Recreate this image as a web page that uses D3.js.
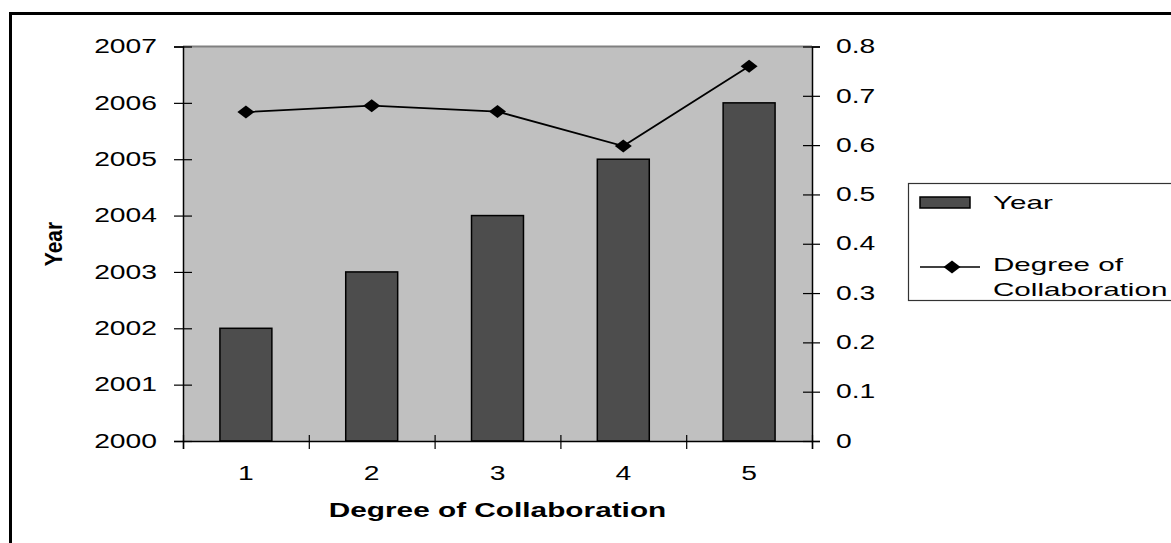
<!DOCTYPE html>
<html>
<head>
<meta charset="utf-8">
<script src="https://cdn.jsdelivr.net/npm/d3@7"></script>
<style>
  body { margin: 0; background: #fff; }
  svg text { font-family: "Liberation Sans", Arial, sans-serif; fill: #000; }
</style>
</head>
<body>
<div id="chart"></div>
<script>
// chart data
var categories = [1, 2, 3, 4, 5];
var yearValues = [2002, 2003, 2004, 2005, 2006];
var collabValues = [0.667, 0.68, 0.668, 0.598, 0.76];
var yearTicks = [2000, 2001, 2002, 2003, 2004, 2005, 2006, 2007];
var collabTicks = [0, 0.1, 0.2, 0.3, 0.4, 0.5, 0.6, 0.7, 0.8];

var W = 1171, H = 543;
var margin = { top: 46.5, right: 359, bottom: 102, left: 183 };
var width = W - margin.left - margin.right,
    height = H - margin.top - margin.bottom;

var svg = d3.select("#chart").append("svg")
    .attr("width", W)
    .attr("height", H);

// outer frame (runs off the right and bottom edge)
svg.append("rect")
    .attr("x", 10.5).attr("y", 13.5)
    .attr("width", W + 20).attr("height", H + 20)
    .attr("fill", "none")
    .attr("stroke", "#000")
    .attr("stroke-width", 3);

var g = svg.append("g")
    .attr("transform", "translate(" + margin.left + "," + margin.top + ")");

// scales
var x = d3.scaleBand()
    .domain(categories)
    .range([0, width])
    .paddingInner(0.587)
    .paddingOuter(0.2935);

var xEdge = d3.scaleLinear().domain([0, categories.length]).range([0, width]);

var yLeft = d3.scaleLinear().domain([2000, 2007]).range([height, 0]);
var yRight = d3.scaleLinear().domain([0, 0.8]).range([height, 0]);

// plot background
g.append("rect")
    .attr("width", width)
    .attr("height", height)
    .attr("fill", "#c0c0c0");
g.append("line")
    .attr("x1", 0).attr("x2", width)
    .attr("y1", 0).attr("y2", 0)
    .attr("stroke", "#808080")
    .attr("stroke-width", 2);

// stretch text sideways like the original
function stretch(sel, dx, sx) {
  sel.attr("x", 0).attr("transform", "translate(" + dx + ",0) scale(" + sx + ",1)");
}

var tickFont = 19.5, tickStretch = 1.45;

// bars
g.selectAll(".bar")
    .data(categories)
  .enter().append("rect")
    .attr("class", "bar")
    .attr("x", function(d) { return x(d); })
    .attr("width", x.bandwidth())
    .attr("y", function(d, i) { return yLeft(yearValues[i]); })
    .attr("height", function(d, i) { return height - yLeft(yearValues[i]); })
    .attr("fill", "#4d4d4d")
    .attr("stroke", "#000")
    .attr("stroke-width", 1.5);

// left axis
var leftAxis = g.append("g")
    .call(d3.axisLeft(yLeft).tickValues(yearTicks).tickFormat(d3.format("d")).tickSize(9).tickPadding(0));
leftAxis.select(".domain").attr("stroke", "#000").attr("stroke-width", 1.5);
leftAxis.selectAll(".tick line").attr("x1", 9).attr("stroke-width", 1.2);
leftAxis.selectAll(".tick text")
    .attr("font-size", tickFont)
    .attr("fill", "#000")
    .call(stretch, -26, tickStretch);

// right axis
var rightAxis = g.append("g")
    .attr("transform", "translate(" + width + ",0)")
    .call(d3.axisRight(yRight).tickValues(collabTicks).tickFormat(function(d) { return d === 0 ? "0" : d3.format(".1f")(d); }).tickSize(8).tickPadding(0));
rightAxis.select(".domain").attr("stroke", "#000").attr("stroke-width", 1.5);
rightAxis.selectAll(".tick line").attr("x1", -9).attr("stroke-width", 1.2);
rightAxis.selectAll(".tick text")
    .attr("font-size", tickFont)
    .attr("fill", "#000")
    .call(stretch, 24, tickStretch);

// bottom axis: ticks at the category edges
var bottomAxis = g.append("g")
    .attr("transform", "translate(0," + height + ")")
    .call(d3.axisBottom(xEdge).ticks(5).tickFormat("").tickSize(8));
bottomAxis.select(".domain").attr("stroke", "#000").attr("stroke-width", 1.5);
bottomAxis.selectAll(".tick line").attr("y1", -6).attr("stroke-width", 1.2);

g.selectAll(".xlabel")
    .data(categories)
  .enter().append("text")
    .attr("class", "xlabel")
    .attr("text-anchor", "middle")
    .attr("font-size", tickFont)
    .attr("transform", function(d) {
      return "translate(" + (x(d) + x.bandwidth() / 2) + "," + (height + 39) + ") scale(" + tickStretch + ",1)";
    })
    .text(function(d) { return d; });

// line series
var line = d3.line()
    .x(function(d, i) { return x(categories[i]) + x.bandwidth() / 2; })
    .y(function(d) { return yRight(d); });

g.append("path")
    .datum(collabValues)
    .attr("fill", "none")
    .attr("stroke", "#000")
    .attr("stroke-width", 1.8)
    .attr("d", line);

var diamond = "M-8.5,0L0,-6.5L8.5,0L0,6.5Z";
g.selectAll(".marker")
    .data(collabValues)
  .enter().append("path")
    .attr("class", "marker")
    .attr("d", diamond)
    .attr("fill", "#000")
    .attr("transform", function(d, i) {
      return "translate(" + (x(categories[i]) + x.bandwidth() / 2) + "," + yRight(d) + ")";
    });

// axis titles
g.append("text")
    .attr("text-anchor", "middle")
    .attr("font-size", 20)
    .attr("font-weight", "bold")
    .attr("transform", "translate(" + (width / 2) + "," + (height + 76) + ") scale(1.49,1)")
    .text("Degree of Collaboration");

svg.append("text")
    .attr("text-anchor", "middle")
    .attr("font-size", 21)
    .attr("font-weight", "bold")
    .attr("transform", "translate(62,244) scale(1.15,1) rotate(-90)")
    .text("Year");

// legend
var legend = svg.append("g").attr("transform", "translate(908,183)");
legend.append("rect")
    .attr("x", 0.5).attr("y", 0.5)
    .attr("width", 300).attr("height", 117)
    .attr("fill", "#fff")
    .attr("stroke", "#333")
    .attr("stroke-width", 1.2);

legend.append("rect")
    .attr("x", 12).attr("y", 14)
    .attr("width", 50).attr("height", 11)
    .attr("fill", "#4d4d4d")
    .attr("stroke", "#000")
    .attr("stroke-width", 1.5);

legend.append("line")
    .attr("x1", 12).attr("x2", 72)
    .attr("y1", 84).attr("y2", 84)
    .attr("stroke", "#000")
    .attr("stroke-width", 1.5);
legend.append("path")
    .attr("d", diamond)
    .attr("fill", "#000")
    .attr("transform", "translate(44,84)");

var legendFont = 18.5, legendStretch = 1.6;
var legendLabels = [["Year", 26], ["Degree of", 88], ["Collaboration", 113]];
legend.selectAll(".ltext")
    .data(legendLabels)
  .enter().append("text")
    .attr("class", "ltext")
    .attr("font-size", legendFont)
    .attr("transform", function(d) { return "translate(85," + d[1] + ") scale(" + legendStretch + ",1)"; })
    .text(function(d) { return d[0]; });
</script>
</body>
</html>
